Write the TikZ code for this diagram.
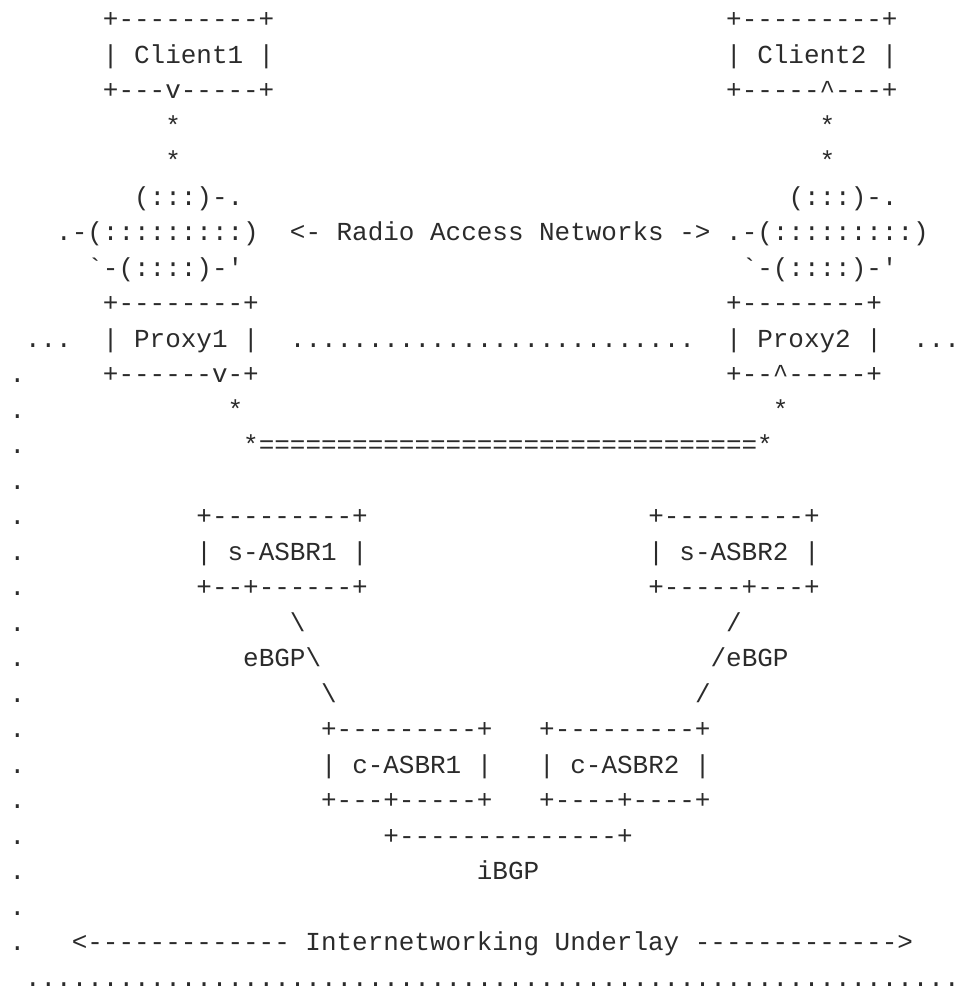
\documentclass[tikz,border=0pt]{standalone}
\usepackage{fontspec}
\setmonofont{Liberation Mono}
\definecolor{ink}{HTML}{2B2B2B}
\newcommand\T[4]{\node[txt] (#1) at ({9.5+15.58*#2},{-27.6-35.5*(#3-1)}) {#4};}
\newcommand\bs{\textbackslash}
\newcommand\up{\textasciicircum}
\newcommand\gr{\textasciigrave}
\newcommand\qt{\textquotesingle}
\begin{document}
\begin{tikzpicture}[x=1bp,y=1bp,
  txt/.style={anchor=base west,inner sep=0pt,outer sep=0pt,text=ink,
    font=\ttfamily\fontsize{25.96bp}{30bp}\selectfont\frenchspacing}]
\useasboundingbox (0,0) rectangle (961,-992);
% Clients
\T{cAtop}{6}{1}{+---------+}
\T{cBtop}{46}{1}{+---------+}
\T{client1}{6}{2}{| Client1 |}
\T{client2}{46}{2}{| Client2 |}
\T{cAbot}{6}{3}{+---v-----+}
\T{cBbot}{46}{3}{+-----\up---+}
\T{sA1}{10}{4}{*}
\T{sB1}{52}{4}{*}
\T{sA2}{10}{5}{*}
\T{sB2}{52}{5}{*}
% Radio access clouds
\T{rA1}{8}{6}{(:::)-.}
\T{rB1}{50}{6}{(:::)-.}
\T{rA2}{3}{7}{.-(:::::::::)}
\T{ran}{18}{7}{<- Radio Access Networks ->}
\T{rB2}{46}{7}{.-(:::::::::)}
\T{rA3}{5}{8}{\gr-(::::)-\qt}
\T{rB3}{47}{8}{\gr-(::::)-\qt}
% Proxies
\T{pAtop}{6}{9}{+--------+}
\T{pBtop}{46}{9}{+--------+}
\T{dl}{1}{10}{...}
\T{proxy1}{6}{10}{| Proxy1 |}
\T{dm}{18}{10}{..........................}
\T{proxy2}{46}{10}{| Proxy2 |}
\T{dr}{58}{10}{...}
\T{pAbot}{6}{11}{+------v-+}
\T{pBbot}{46}{11}{+--\up-----+}
\T{sA3}{14}{12}{*}
\T{sB3}{49}{12}{*}
\T{eq}{15}{13}{*================================*}
% s-ASBRs
\T{sAtop}{12}{15}{+---------+}
\T{sBtop}{41}{15}{+---------+}
\T{sasbr1}{12}{16}{| s-ASBR1 |}
\T{sasbr2}{41}{16}{| s-ASBR2 |}
\T{sAbot}{12}{17}{+--+------+}
\T{sBbot}{41}{17}{+-----+---+}
\T{lA1}{18}{18}{\bs}
\T{lB1}{46}{18}{/}
\T{ebgp1}{15}{19}{eBGP\bs}
\T{ebgp2}{45}{19}{/eBGP}
\T{lA2}{20}{20}{\bs}
\T{lB2}{44}{20}{/}
% c-ASBRs
\T{caAtop}{20}{21}{+---------+}
\T{caBtop}{34}{21}{+---------+}
\T{casbr1}{20}{22}{| c-ASBR1 |}
\T{casbr2}{34}{22}{| c-ASBR2 |}
\T{caAbot}{20}{23}{+---+-----+}
\T{caBbot}{34}{23}{+----+----+}
\T{ib}{24}{24}{+--------------+}
\T{ibgp}{30}{25}{iBGP}
% Underlay
\T{ul}{4}{27}{<------------- Internetworking Underlay ------------->}
\T{bottom}{1}{28}{............................................................}
% left dotted edge
\foreach \r in {11,...,27} {
  \node[txt] (edge\r) at (9.5,{-27.6-35.5*(\r-1)}) {.};
}
\end{tikzpicture}
\end{document}
